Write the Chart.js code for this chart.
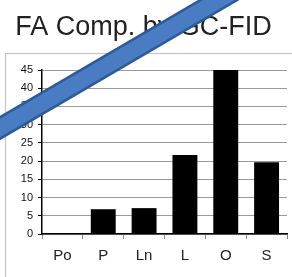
<!DOCTYPE html>
<html>
<head>
<meta charset="utf-8">
<script src="https://cdn.jsdelivr.net/npm/chart.js@4"></script>
<style>
html,body{margin:0;padding:0;background:#fff;}
#wrap{width:292px;height:277px;position:relative;}
</style>
</head>
<body>
<div id="wrap"><canvas id="c" width="292" height="277"></canvas></div>
<script>
const categories = ['Po', 'P', 'Ln', 'L', 'O', 'S'];
const values = [0, 6.8, 7.1, 21.7, 45, 19.7];
const yTicks = [0, 5, 10, 15, 20, 25, 30, 35, 40, 45];
const titleText = 'FA Comp. by GC-FID';

const framePlugin = {
  id: 'frame',
  beforeDraw(chart) {
    const ctx = chart.ctx;
    ctx.save();
    ctx.fillStyle = '#fff';
    ctx.fillRect(0, 0, chart.width, chart.height);
    ctx.strokeStyle = '#c4c4c4';
    ctx.lineWidth = 1.2;
    ctx.strokeRect(5.5, 53.5, chart.width + 10, chart.height + 10);
    ctx.restore();
  }
};

const arrowPlugin = {
  id: 'arrow',
  afterDraw(chart) {
    const ctx = chart.ctx;
    const k = 0.585, c = 128;
    const x0 = -20, y0 = c + 20 * k;
    const x1 = 245, y1 = c - 245 * k;
    ctx.save();
    ctx.lineCap = 'butt';
    ctx.strokeStyle = '#2e5a95';
    ctx.lineWidth = 21;
    ctx.beginPath(); ctx.moveTo(x0, y0); ctx.lineTo(x1, y1); ctx.stroke();
    ctx.strokeStyle = '#4a7cc3';
    ctx.lineWidth = 16;
    ctx.beginPath(); ctx.moveTo(x0, y0); ctx.lineTo(x1, y1); ctx.stroke();
    ctx.restore();
  }
};

new Chart(document.getElementById('c'), {
  type: 'bar',
  data: {
    labels: categories,
    datasets: [{
      data: values,
      backgroundColor: '#000',
      borderWidth: 0,
      categoryPercentage: 1,
      barPercentage: 0.61
    }]
  },
  options: {
    responsive: false,
    animation: false,
    devicePixelRatio: 1,
    layout: { padding: { left: 0, right: 5, top: 0, bottom: 0 } },
    plugins: {
      legend: { display: false },
      tooltip: { enabled: false },
      title: {
        display: true,
        text: titleText,
        color: '#222',
        font: { family: 'Liberation Sans, Arial, sans-serif', size: 27, weight: 'normal' },
        padding: { top: 11, bottom: 26.6 }
      }
    },
    scales: {
      x: {
        grid: {
          display: true,
          drawOnChartArea: false,
          drawTicks: true,
          tickLength: 5,
          tickColor: '#888',
          offset: true
        },
        border: { display: true, color: '#000', width: 1.5 },
        ticks: {
          color: '#222',
          padding: 8,
          font: { family: 'Liberation Sans, Arial, sans-serif', size: 15 }
        },
        afterFit(scale) { scale.height = 43; }
      },
      y: {
        min: 0,
        max: 45,
        afterBuildTicks(scale) { scale.ticks = yTicks.map(v => ({ value: v })); },
        grid: {
          color: '#9a9a9a',
          lineWidth: 1,
          drawTicks: true,
          tickLength: 4,
          tickColor: '#000'
        },
        border: { display: true, color: '#000', width: 1.5 },
        ticks: {
          color: '#111',
          padding: 5,
          font: { family: 'Liberation Sans, Arial, sans-serif', size: 11 }
        },
        afterFit(scale) { scale.width = 42; }
      }
    }
  },
  plugins: [framePlugin, arrowPlugin]
});
</script>
</body>
</html>
